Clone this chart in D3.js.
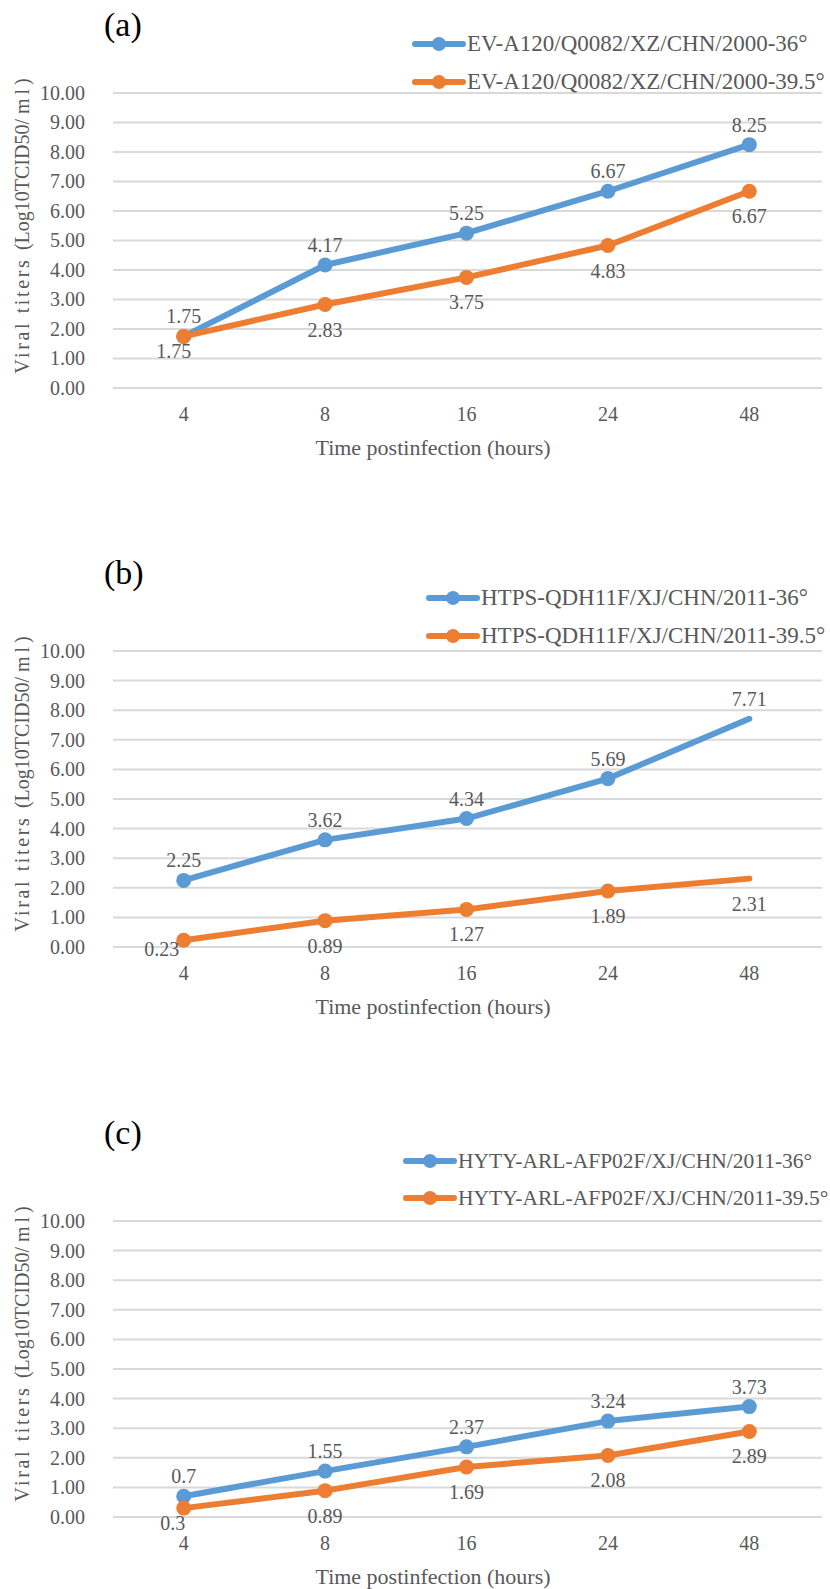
<!DOCTYPE html>
<html>
<head>
<meta charset="utf-8">
<script src="https://cdn.jsdelivr.net/npm/d3@7"></script>
<style>
  body { margin: 0; background: #fff; }
  svg { display: block; }
  text { font-family: "Liberation Serif", "Times New Roman", serif; }
</style>
</head>
<body>
<div id="chart"></div>
<script>
// time points (hours)
const categories = ["4", "8", "16", "24", "48"];
const yTicks = [0, 1, 2, 3, 4, 5, 6, 7, 8, 9, 10];

// (a)
const aNames = ["EV-A120/Q0082/XZ/CHN/2000-36\u00B0", "EV-A120/Q0082/XZ/CHN/2000-39.5\u00B0"];
const aBlue = [1.75, 4.17, 5.25, 6.67, 8.25];
const aOrange = [1.75, 2.83, 3.75, 4.83, 6.67];

// (b)  no marker drawn on the 48 h point
const bNames = ["HTPS-QDH11F/XJ/CHN/2011-36\u00B0", "HTPS-QDH11F/XJ/CHN/2011-39.5\u00B0"];
const bBlue = [2.25, 3.62, 4.34, 5.69, 7.71];
const bOrange = [0.23, 0.89, 1.27, 1.89, 2.31];
const bMarkers = [true, true, true, true, false];

// (c)
const cNames = ["HYTY-ARL-AFP02F/XJ/CHN/2011-36\u00B0", "HYTY-ARL-AFP02F/XJ/CHN/2011-39.5\u00B0"];
const cBlue = [0.7, 1.55, 2.37, 3.24, 3.73];
const cOrange = [0.3, 0.89, 1.69, 2.08, 2.89];

const allMarkers = [true, true, true, true, true];

const blue = "#5B9BD5";
const orange = "#ED7D31";
const grey = "#595959";

const width = 830, height = 1589;

const svg = d3.select("#chart").append("svg")
    .attr("width", width)
    .attr("height", height);

svg.append("rect").attr("width", width).attr("height", height).attr("fill", "#fff");

// first lower label sits closer to its point (as in the original) so it clears the x labels
let panels = [
    {tag: "(a)", names: aNames, series: [aBlue, aOrange], markers: [allMarkers, allMarkers],
     top: 93, bottom: 388, tagY: 25, legX: 412, legY: [44, 82], legFont: 23,
     firstLow: {dx: -10, dy: 22}},
    {tag: "(b)", names: bNames, series: [bBlue, bOrange], markers: [bMarkers, bMarkers],
     top: 651, bottom: 947, tagY: 573, legX: 426, legY: [598, 636], legFont: 23,
     firstLow: {dx: -22, dy: 16}},
    {tag: "(c)", names: cNames, series: [cBlue, cOrange], markers: [allMarkers, allMarkers],
     top: 1221, bottom: 1517, tagY: 1133, legX: 403, legY: [1161, 1198], legFont: 21.5,
     firstLow: {dx: -11, dy: 22}}
];

const x = d3.scaleBand()
    .domain(categories)
    .range([113, 820]);

const cx = d => x(d) + x.bandwidth() / 2;

panels.forEach(function(p){
    let g = svg.append("g");

    let y = d3.scaleLinear()
        .domain([0, 10])
        .range([p.bottom, p.top]);

    // gridlines
    g.selectAll(".grid")
        .data(yTicks)
        .enter()
        .append("line")
        .attr("x1", x.range()[0])
        .attr("x2", x.range()[1] + 2)
        .attr("y1", d => y(d))
        .attr("y2", d => y(d))
        .attr("stroke", "#D9D9D9")
        .attr("stroke-width", 2);

    // y axis labels
    let yAxis = d3.axisLeft(y)
        .tickValues(yTicks)
        .tickSize(0)
        .tickPadding(28)
        .tickFormat(d3.format(".2f"));

    let yg = g.append("g")
        .attr("transform", "translate(" + x.range()[0] + ",0)")
        .call(yAxis);
    yg.select(".domain").remove();
    yg.selectAll("text")
        .attr("font-size", 20)
        .attr("fill", grey);

    // x axis labels
    let xAxis = d3.axisBottom(x)
        .tickSize(0)
        .tickPadding(19);

    let xg = g.append("g")
        .attr("transform", "translate(0," + p.bottom + ")")
        .call(xAxis);
    xg.select(".domain").remove();
    xg.selectAll("text")
        .attr("font-size", 20)
        .attr("fill", grey);

    // axis titles
    g.append("text")
        .attr("x", 433)
        .attr("y", p.bottom + 67)
        .attr("text-anchor", "middle")
        .attr("font-size", 22)
        .attr("fill", grey)
        .text("Time postinfection (hours)");

    let yt = g.append("text")
        .attr("transform", "translate(29," + (p.top + 133) + ") rotate(-90)")
        .attr("text-anchor", "middle")
        .attr("font-size", 20)
        .attr("fill", grey);
    yt.append("tspan").attr("letter-spacing", 2.6).text("Viral titers ");
    yt.append("tspan").text("(Log10TCID50/ ");
    yt.append("tspan").attr("letter-spacing", 4).text("ml");
    yt.append("tspan").text(")");

    // panel tag
    g.append("text")
        .attr("x", 104)
        .attr("y", p.tagY + 11)
        .attr("font-size", 34)
        .attr("fill", "#000")
        .text(p.tag);

    let colors = [blue, orange];

    let line = d3.line()
        .x((d, i) => cx(categories[i]))
        .y(d => y(d));

    p.series.forEach(function(values, s){
        g.append("path")
            .datum(values)
            .attr("d", line)
            .attr("fill", "none")
            .attr("stroke", colors[s])
            .attr("stroke-width", 6)
            .attr("stroke-linecap", "round")
            .attr("stroke-linejoin", "round");

        g.selectAll(".pt" + s)
            .data(values.map((v, i) => ({v: v, i: i})).filter(d => p.markers[s][d.i]))
            .enter()
            .append("circle")
            .attr("cx", d => cx(categories[d.i]))
            .attr("cy", d => y(d.v))
            .attr("r", 7.5)
            .attr("fill", colors[s]);
    });

    // data labels: first series above, second below
    p.series.forEach(function(values, s){
        g.selectAll(".lab" + s)
            .data(values)
            .enter()
            .append("text")
            .attr("x", (d, i) => cx(categories[i]) + (s === 1 && i === 0 ? p.firstLow.dx : 0))
            .attr("y", (d, i) => {
                if (s === 0) return y(d) - 13;
                return y(d) + (i === 0 ? p.firstLow.dy : 32);
            })
            .attr("text-anchor", "middle")
            .attr("font-size", 20)
            .attr("fill", grey)
            .text(d => String(d));
    });

    // legend
    p.names.forEach(function(name, s){
        let ly = p.legY[s];
        g.append("line")
            .attr("x1", p.legX + 3)
            .attr("x2", p.legX + 51)
            .attr("y1", ly)
            .attr("y2", ly)
            .attr("stroke", colors[s])
            .attr("stroke-width", 6)
            .attr("stroke-linecap", "round");
        g.append("circle")
            .attr("cx", p.legX + 27)
            .attr("cy", ly)
            .attr("r", 7)
            .attr("fill", colors[s]);
        g.append("text")
            .attr("x", p.legX + 55)
            .attr("y", ly + 7)
            .attr("font-size", p.legFont)
            .attr("fill", grey)
            .text(name);
    });
});
</script>
</body>
</html>
